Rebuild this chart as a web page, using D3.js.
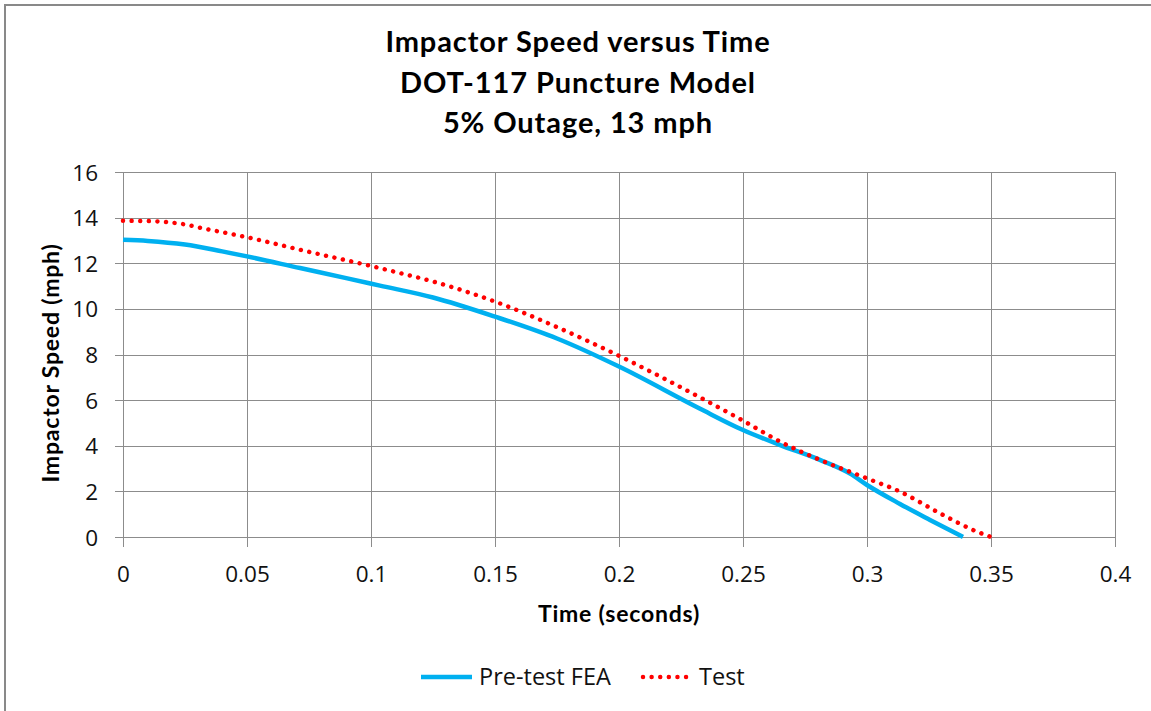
<!DOCTYPE html>
<html>
<head>
<meta charset="utf-8">
<script src="https://cdn.jsdelivr.net/npm/d3@7"></script>
<style>
  html, body { margin: 0; padding: 0; background: #fff; }
  svg { display: block; }
</style>
</head>
<body>
<svg id="chart" width="1151" height="711"></svg>
<script>
// Time samples (s) and impactor speed (mph)
const feaTime  = [0, 0.01, 0.025, 0.04, 0.05, 0.0714, 0.09, 0.1036, 0.125, 0.15, 0.175, 0.2, 0.2327, 0.25, 0.265, 0.281, 0.293, 0.3, 0.3133, 0.3254, 0.3387];
const feaSpeed = [13.03, 12.98, 12.82, 12.52, 12.3, 11.79, 11.35, 11.02, 10.5, 9.66, 8.7, 7.47, 5.62, 4.69, 4.03, 3.38, 2.79, 2.28, 1.45, 0.75, 0];

const testTime  = [0, 0.0097, 0.025, 0.031, 0.05, 0.075, 0.0996, 0.1117, 0.125, 0.15, 0.175, 0.2, 0.2347, 0.25, 0.265, 0.281, 0.3, 0.3133, 0.3294, 0.3444, 0.35];
const testSpeed = [13.86, 13.85, 13.7, 13.56, 13.14, 12.5, 11.89, 11.57, 11.2, 10.32, 9.2, 7.94, 6.0, 5.1, 4.18, 3.38, 2.57, 1.99, 1.04, 0.23, 0];

const xTicks = [0, 0.05, 0.1, 0.15, 0.2, 0.25, 0.3, 0.35, 0.4];
const xTickLabels = ["0", "0.05", "0.1", "0.15", "0.2", "0.25", "0.3", "0.35", "0.4"];
const yTicks = [0, 2, 4, 6, 8, 10, 12, 14, 16];

const titleLines = ["Impactor Speed versus Time", "DOT-117 Puncture Model", "5% Outage, 13 mph"];
const seriesNames = ["Pre-test FEA", "Test"];

const svg = d3.select("#chart");
const W = 1151, H = 711;
const plot = { left: 123, right: 1115, top: 172, bottom: 537 };
const gridColor = "#8c8c8c";
const textFont = "'Open Sans', sans-serif";
const boldFont = "Lato, 'Open Sans', sans-serif";

svg.append("rect").attr("width", W).attr("height", H).attr("fill", "#fff");
// chart frame
svg.append("rect")
  .attr("x", 5).attr("y", 5).attr("width", W + 20).attr("height", H + 20)
  .attr("fill", "none").attr("stroke", "#898989").attr("stroke-width", 2);

const x = d3.scaleLinear().domain([0, 0.4]).range([plot.left, plot.right]);
const y = d3.scaleLinear().domain([0, 16]).range([plot.bottom, plot.top]);

// gridlines, extended past the plot edge as tick marks
const grid = svg.append("g").attr("shape-rendering", "crispEdges");
grid.selectAll("line.h").data(yTicks).join("line")
  .attr("x1", plot.left - 8).attr("x2", plot.right)
  .attr("y1", d => Math.round(y(d)) + 0.5).attr("y2", d => Math.round(y(d)) + 0.5)
  .attr("stroke", gridColor).attr("stroke-width", 1);
grid.selectAll("line.v").data(xTicks).join("line")
  .attr("y1", plot.top).attr("y2", plot.bottom + 10)
  .attr("x1", d => Math.round(x(d)) + 0.5).attr("x2", d => Math.round(x(d)) + 0.5)
  .attr("stroke", gridColor).attr("stroke-width", 1);

// axes (labels only; ticks drawn with the grid)
const xAxis = d3.axisBottom(x).tickValues(xTicks)
  .tickFormat((d, i) => xTickLabels[i]).tickSize(0).tickPadding(0);
const gx = svg.append("g").attr("transform", `translate(0,${plot.bottom})`).call(xAxis);
gx.select(".domain").remove();
gx.selectAll("text")
  .attr("y", 45).attr("dy", null)
  .attr("font-family", textFont).attr("font-size", 22.5).attr("fill", "#111");

const yAxis = d3.axisLeft(y).tickValues(yTicks).tickFormat(d3.format("d")).tickSize(0).tickPadding(0);
const gy = svg.append("g").attr("transform", `translate(${plot.left},0)`).call(yAxis);
gy.select(".domain").remove();
gy.selectAll("text")
  .attr("x", -25).attr("dy", "0.36em")
  .attr("font-family", textFont).attr("font-size", 22.5).attr("fill", "#111");

// series
const line = d3.line().x(d => x(d[0])).y(d => y(d[1])).curve(d3.curveMonotoneX);
const feaData = feaTime.map((t, i) => [t, feaSpeed[i]]);
const testData = testTime.map((t, i) => [t, testSpeed[i]]);

svg.append("path").datum(feaData).attr("d", line)
  .attr("fill", "none").attr("stroke", "#00b0f0").attr("stroke-width", 4.5)
  .attr("stroke-linejoin", "round");
svg.append("path").datum(testData).attr("d", line)
  .attr("fill", "none").attr("stroke", "#ff0000").attr("stroke-width", 4.5)
  .attr("stroke-linecap", "round").attr("stroke-dasharray", "0.01 8.6");

// titles
const title = svg.append("text").attr("text-anchor", "middle")
  .attr("font-family", boldFont).attr("font-weight", "bold").attr("font-size", 29)
  .attr("letter-spacing", 0.9).attr("fill", "#000");
titleLines.forEach((t, i) => {
  title.append("tspan").attr("x", 578).attr("y", 52 + i * 40.5).text(t);
});

svg.append("text").attr("x", 619).attr("y", 622).attr("text-anchor", "middle")
  .attr("font-family", boldFont).attr("font-weight", "bold").attr("font-size", 23)
  .attr("letter-spacing", 0.8).text("Time (seconds)");

svg.append("text").attr("transform", `translate(59,363) rotate(-90)`).attr("text-anchor", "middle")
  .attr("font-family", boldFont).attr("font-weight", "bold").attr("font-size", 23)
  .attr("letter-spacing", 0.8).text("Impactor Speed (mph)");

// legend
const legend = svg.append("g");
legend.append("line").attr("x1", 421).attr("x2", 472).attr("y1", 677).attr("y2", 677)
  .attr("stroke", "#00b0f0").attr("stroke-width", 4.5);
legend.append("text").attr("x", 479).attr("y", 685)
  .attr("font-family", textFont).attr("font-size", 23.5).attr("fill", "#111").text(seriesNames[0]);
legend.append("line").attr("x1", 643).attr("x2", 694).attr("y1", 677).attr("y2", 677)
  .attr("stroke", "#ff0000").attr("stroke-width", 4.5)
  .attr("stroke-linecap", "round").attr("stroke-dasharray", "0.01 8.6");
legend.append("text").attr("x", 699).attr("y", 685)
  .attr("font-family", textFont).attr("font-size", 23.5).attr("fill", "#111").text(seriesNames[1]);
</script>
</body>
</html>
